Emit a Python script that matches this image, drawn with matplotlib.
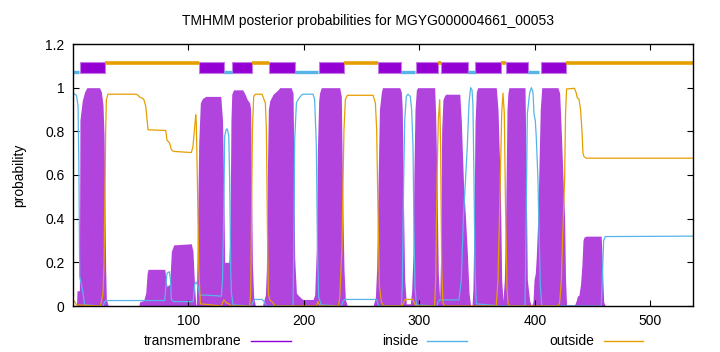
import numpy as np
import matplotlib
matplotlib.use("Agg")
import matplotlib.pyplot as plt
from matplotlib.lines import Line2D

plt.rcParams['font.family'] = ['Liberation Sans', 'DejaVu Sans']
plt.rcParams['font.size'] = 10

title = "TMHMM posterior probabilities for MGYG000004661_00053"
seq_len = 537

# transmembrane posterior (residue, probability)
tm_pos = [0, 3, 3.5, 5.5, 6, 8, 10, 12, 23, 24.6, 26, 26.9, 27.8, 28.3, 28.9, 30.3, 31,
          57, 57.8, 61.2, 63, 64.2, 65, 79.5, 80.5, 81.4, 83.7, 85.2, 87.2, 102.5, 103.9,
          105.4, 106.3, 106.8, 107.7, 108.9, 110.3, 112, 115, 128, 129.5, 130.5, 131.4,
          134.9, 136, 136.8, 137.5, 139, 147, 149, 151, 153, 153.9, 154.5, 155.4, 156.5,
          158, 164, 165.5, 166.6, 167.5, 168.4, 169.2, 170.4, 173.3, 177.6, 179, 189,
          190.6, 191.2, 192, 193.5, 194.9, 197.8, 199.2, 207.9, 209.3, 210.8, 211.7,
          212.8, 213.5, 215, 231, 232.4, 233, 233.9, 234.7, 235.9, 237.6, 259.9, 261.9,
          263, 264.2, 265.4, 267.1, 268, 283, 284.4, 285.2, 286.4, 287.3, 288.7, 292.2,
          293.3, 294.5, 295.3, 296.2, 297.4, 298.5, 313.2, 314.1, 315.3, 316.4, 317.6,
          318.4, 319.3, 320.4, 322, 323, 335, 336.3, 338.3, 340, 341.5, 343, 344.4,
          345.6, 346.4, 347.3, 348.2, 349.3, 350.5, 366.6, 368.1, 370.1, 371.3, 372.4,
          373.6, 374.7, 375.9, 376.7, 377.5, 391.5, 392.5, 393.5, 395.5, 397, 398.4,
          399.3, 400.4, 401.2, 402.7, 403.5, 404.7, 406, 420, 421.5, 423, 424.3, 425.8,
          426.6, 427.5, 434.4, 435.9, 436.8, 438.2, 439.6, 440.8, 441.7, 442.5, 444.5,
          457.5, 458.4, 459.6, 461, 537]
tm_val = [0, 0, 0.07, 0.07, 0.85, 0.94, 0.98, 1.0, 1.0, 0.98, 0.92, 0.78, 0.4, 0.17, 0.03, 0.005, 0,
          0, 0.02, 0.025, 0.06, 0.15, 0.168, 0.168, 0.12, 0.09, 0.1, 0.25, 0.28, 0.285, 0.25,
          0.08, 0.01, 0.0, 0.32, 0.75, 0.93, 0.95, 0.96, 0.96, 0.85, 0.55, 0.2,
          0.2, 0.35, 0.85, 0.97, 0.99, 0.99, 0.97, 0.945, 0.93, 0.9, 0.6, 0.19, 0.04,
          0.0, 0.0, 0.03, 0.05, 0.17, 0.63, 0.9, 0.94, 0.97, 0.99, 1.0, 1.0,
          0.975, 0.7, 0.22, 0.06, 0.05, 0.035, 0.03, 0.03, 0.05, 0.27, 0.72,
          0.94, 0.975, 1.0, 1.0, 0.96, 0.72, 0.4, 0.17, 0.03, 0.0, 0.0, 0.04,
          0.17, 0.56, 0.9, 0.98, 1.0, 1.0, 0.98, 0.9, 0.41, 0.12, 0.01, 0.01,
          0.07, 0.24, 0.62, 0.9, 0.99, 1.0, 1.0, 0.88, 0.55, 0.15, 0.03,
          0.24, 0.8, 0.945, 0.965, 0.97, 0.97, 0.85, 0.55, 0.4, 0.25, 0.06, 0.0,
          0.0, 0.08, 0.4, 0.84, 0.98, 1.0, 1.0, 0.9, 0.55, 0.12, 0.025,
          0.12, 0.4, 0.9, 0.975, 1.0, 1.0, 0.6, 0.12, 0.025, 0.0, 0.02,
          0.12, 0.15, 0.22, 0.42, 0.62, 0.9, 1.0, 1.0, 0.975, 0.79, 0.6, 0.4,
          0.12, 0.005, 0.005, 0.025, 0.045, 0.05, 0.1, 0.19, 0.3, 0.315, 0.32,
          0.32, 0.2, 0.02, 0.0, 0.0]

# inside posterior
in_pos = [0, 3, 4.4, 5.2, 5.8, 7.2, 8.7, 10, 26, 27.5, 28.9, 79.4, 81.4, 83.4, 84.5, 85.2,
          87, 104, 105.4, 106.8, 108.3, 109.7, 115.5, 128.5, 129.5, 130.5, 131.4, 132.8,
          133.7, 134.9, 135.7, 136.6, 137.2, 138.6, 154.5, 156, 157.4, 163.7, 165.5, 167.5,
          190.6, 191.2, 192, 193.5, 194.9, 197.8, 199.2, 207.9, 209.3, 210.8, 211.7, 212.8,
          215.1, 232.4, 233.9, 235.3, 262.8, 263.6, 264.8, 284.4, 285.2, 286.4, 287.3,
          288.7, 290.1, 292.2, 293.3, 294.5, 295.3, 296.2, 297.4, 315.3, 316.1, 317.6,
          334.3, 336.3, 338.3, 340, 341.5, 343, 344.4, 345.6, 346.4, 347.3, 348.2, 349.3,
          370.1, 391.5, 392.5, 393.5, 395.5, 397, 398.4, 399.3, 400.4, 401.2, 402.7, 403.5,
          404.7, 406, 457.5, 458.4, 459.6, 461, 537]
in_val = [0.975, 0.965, 0.915, 0.58, 0.135, 0.1, 0.06, 0.005, 0.0, 0.02, 0.025, 0.025, 0.15, 0.157, 0.12, 0.03,
          0.02, 0.02, 0.10, 0.11, 0.09, 0.05, 0.05, 0.045, 0.12, 0.42, 0.78, 0.81,
          0.81, 0.78, 0.58, 0.16, 0.06, 0.005, 0.0, 0.02, 0.03, 0.03, 0.02, 0.0,
          0.0, 0.27, 0.76, 0.93, 0.945, 0.965, 0.97, 0.97, 0.945, 0.73, 0.27, 0.04,
          0.005, 0.0, 0.02, 0.03, 0.03, 0.02, 0.0, 0.0, 0.09, 0.58, 0.85,
          0.96, 0.97, 0.96, 0.9, 0.73, 0.35, 0.09, 0.005, 0.0, 0.02, 0.028,
          0.028, 0.12, 0.425, 0.58, 0.73, 0.93, 1.0, 0.99, 0.92, 0.58, 0.16, 0.01,
          0.0, 0.0, 0.4, 0.88, 0.975, 1.0, 0.98, 0.88, 0.85, 0.78, 0.58, 0.38,
          0.1, 0.0, 0.0, 0.12, 0.3, 0.318, 0.32]

# outside posterior
out_pos = [0, 1.5, 2.9, 23.7, 24.6, 26, 26.9, 27.8, 28.3, 28.9, 30.3, 54.9, 56.3, 57.8, 61.2,
           63, 65, 80.3, 81.4, 83.7, 85.2, 87.2, 102.5, 103.9, 105.4, 106.3, 106.8, 107.7,
           108.9, 110.3, 128.5, 129.9, 130.8, 132.8, 135, 137, 153, 153.9, 154.5, 155.4,
           156.5, 158, 163.7, 165.5, 166.6, 167.5, 168.4, 169.2, 170.4, 173.3, 175, 210.8,
           212.2, 214, 230, 231, 233, 233.9, 234.7, 235.9, 237.6, 259.9, 261.9, 263, 264.2,
           265.4, 267.1, 269, 285, 287.3, 288.7, 294.5, 295.9, 297, 313.2, 314.1, 315.3,
           316.4, 317.6, 318.4, 319.3, 320.4, 322, 366.6, 368.1, 370.1, 371.3, 372.4, 373.6,
           374.7, 375.9, 376.7, 378, 420, 421.5, 423, 424.3, 425.8, 426.6, 427.5, 434.4,
           435.9, 436.8, 438.2, 439.6, 440.8, 441.7, 442.5, 444.5, 537]
out_val = [0.025, 0.02, 0.005, 0.0, 0.02, 0.06, 0.2, 0.58, 0.81, 0.945, 0.97, 0.97, 0.965, 0.957, 0.948,
           0.915, 0.807, 0.804, 0.76, 0.746, 0.716, 0.708, 0.703, 0.73, 0.82, 0.876, 0.84, 0.58,
           0.18, 0.01, 0.0, 0.02, 0.028, 0.015, 0.01, 0.0, 0.0, 0.06, 0.35, 0.81,
           0.96, 0.97, 0.97, 0.945, 0.93, 0.81, 0.35, 0.06, 0.028, 0.015, 0.0, 0.0,
           0.02, 0.0, 0.0, 0.04, 0.27, 0.58, 0.81, 0.945, 0.965, 0.965, 0.93, 0.81, 0.42,
           0.09, 0.02, 0.0, 0.0, 0.028, 0.03, 0.03, 0.01, 0.0, 0.0, 0.12, 0.58,
           0.85, 0.945, 0.73, 0.18, 0.015, 0.0, 0.0, 0.12, 0.58, 0.88, 0.975, 0.88,
           0.42, 0.09, 0.015, 0.0, 0.0, 0.015, 0.12, 0.35, 0.58, 0.88, 0.994, 0.997,
           0.975, 0.953, 0.948, 0.9, 0.807, 0.7, 0.685, 0.677, 0.677]

# predicted topology (start, end)
tm_segs = [(6, 28), (109, 131), (138, 155), (170, 192), (213, 235), (264, 284),
           (297, 316), (319, 342), (348, 371), (375, 394), (405, 427)]
in_segs = [(0, 5), (131, 138), (192, 212), (284, 296), (342, 348), (394, 404)]
out_segs = [(28, 109), (155, 170), (235, 264), (316, 319), (371, 375), (427, 537)]

c_tm = '#9400d3'
c_in = '#56b4e9'
c_out = '#e69f00'

fig = plt.figure(figsize=(7.2, 3.52), dpi=100)
ax = fig.add_axes([73 / 720, 1 - 306 / 352, 620 / 720, 262 / 352])

# posterior curves
ax.fill_between(tm_pos, 0, tm_val, color='#b244de', lw=0)
ax.plot(in_pos, in_val, color=c_in, lw=0.9)
ax.plot(out_pos, out_val, color=c_out, lw=0.9)

# topology band on top
for s, e in out_segs:
    ax.plot([s, e], [1.111, 1.111], color=c_out, lw=2.6, solid_capstyle='butt')
for s, e in in_segs:
    ax.plot([s, e], [1.073, 1.073], color=c_in, lw=2.4, solid_capstyle='butt')
ax.broken_barh([(s, e - s) for s, e in tm_segs], (1.067, 0.051),
               facecolor=c_tm, edgecolor='#c27ae6', lw=0.8)

ax.set_xlim(0, seq_len)
ax.set_ylim(0, 1.2)
ax.set_xticks([100, 200, 300, 400, 500])
ax.set_yticks([0, 0.2, 0.4, 0.6, 0.8, 1.0, 1.2])
ax.set_yticklabels(['0', '0.2', '0.4', '0.6', '0.8', '1', '1.2'])
ax.tick_params(direction='in', length=4, top=True, right=True, labelsize=10, pad=6)
for sp in ax.spines.values():
    sp.set_linewidth(1.0)

fig.text(368 / 720, 1 - 21 / 352, title, ha='center', va='center', fontsize=10)
ax.set_ylabel('probability', fontsize=10, labelpad=14)

# key at the bottom
ky = 1 - 341 / 352
for txt, x_txt, x0, x1, col in [('transmembrane', 241, 251, 291, c_tm),
                                ('inside', 418, 427, 467, c_in),
                                ('outside', 594, 604, 643, c_out)]:
    fig.text(x_txt / 720, ky, txt, ha='right', va='center', fontsize=10)
    fig.add_artist(Line2D([x0 / 720, x1 / 720], [ky, ky], color=col, lw=1,
                          transform=fig.transFigure))

fig.savefig('out.png', dpi=100)
